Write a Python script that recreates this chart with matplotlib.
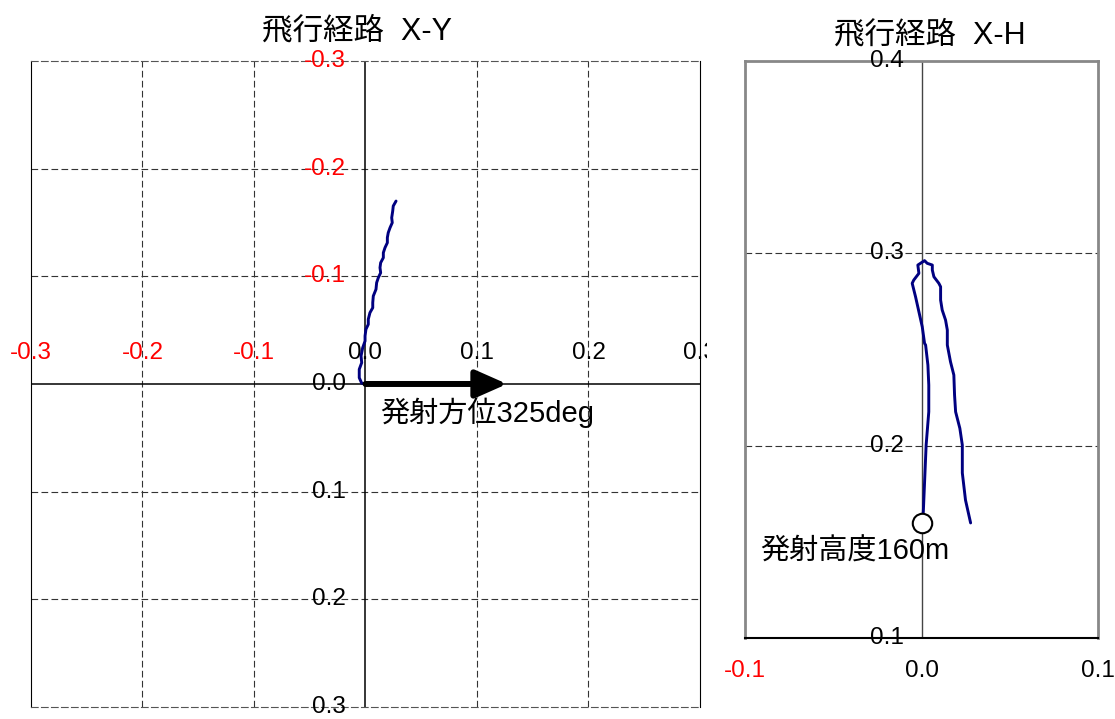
import matplotlib.pyplot as plt
from matplotlib.patches import FancyArrowPatch
from matplotlib.transforms import Bbox, TransformedBbox

plt.rcParams['font.family'] = ['Liberation Sans', 'Noto Sans CJK JP']

# flight path, plan view (km); y grows downward
xy_x = [0.0, -0.0034, -0.0056, -0.0056, -0.0034, -0.0040, -0.0025, -0.0004, -0.0004,
        0.0004, 0.0025, 0.0025, 0.0040, 0.0065, 0.0065, 0.0070, 0.0094, 0.0100,
        0.0115, 0.0136, 0.0130, 0.0136, 0.0160, 0.0160, 0.0175, 0.0196, 0.0196,
        0.0204, 0.0220, 0.0240, 0.0235, 0.0244, 0.0249, 0.0274]
xy_y = [0.0, -0.0007, -0.0058, -0.0136, -0.0198, -0.0260, -0.0337, -0.0399, -0.0446,
        -0.0508, -0.0554, -0.0601, -0.0662, -0.0708, -0.0755, -0.0817, -0.0879, -0.0941,
        -0.0987, -0.1033, -0.1080, -0.1126, -0.1173, -0.1219, -0.1266, -0.1312, -0.1359,
        -0.1405, -0.1451, -0.1498, -0.1544, -0.1606, -0.1653, -0.1699]

# flight path, side view (km)
xh_x = [0.0, 0.0010, 0.0026, 0.0041, 0.0041, 0.0036, 0.0023, 0.0017, 0.0004,
        -0.0015, -0.0034, -0.0053, -0.0044, -0.0015, -0.0021, -0.0006, 0.0017,
        0.0032, 0.0061, 0.0061, 0.0070, 0.0098, 0.0108, 0.0108, 0.0117, 0.0136,
        0.0146, 0.0146, 0.0164, 0.0183, 0.0187, 0.0193, 0.0217, 0.0231, 0.0231,
        0.0249, 0.0278]
xh_h = [0.160, 0.1656, 0.2003, 0.2176, 0.2315, 0.2419, 0.2523, 0.2532, 0.2618,
        0.2696, 0.2774, 0.2844, 0.2861, 0.2896, 0.2939, 0.2948, 0.2962,
        0.2948, 0.2939, 0.2913, 0.2878, 0.2844, 0.2826, 0.2757, 0.2705, 0.2653,
        0.2601, 0.2523, 0.2436, 0.2367, 0.2263, 0.2176, 0.2090, 0.2003, 0.1858,
        0.1717, 0.1598]

xy_ticks = [-0.3, -0.2, -0.1, 0.0, 0.1, 0.2, 0.3]
xh_xticks = [-0.1, 0.0, 0.1]
xh_hticks = [0.1, 0.2, 0.3, 0.4]
launch_azimuth = 325
launch_height = 160

grid_kw = dict(color='#333333', lw=0.8, ls=(0, (6, 3)), zorder=1)
fs = 17.5
path_kw = dict(color='#000080', lw=2.1, zorder=4, solid_joinstyle='round',
               solid_capstyle='round')

fig = plt.figure(figsize=(11.15, 7.19), dpi=100)

# X-Y
ax1 = fig.add_axes([0.0278, 0.0167, 0.6, 0.8985])
ax1.set_xlim(-0.3, 0.3)
ax1.set_ylim(0.3, -0.3)
ax1.set_xticks([])
ax1.set_yticks([])
for v in xy_ticks[1:-1]:
    if v != 0:
        ax1.axvline(v, **grid_kw)
        ax1.axhline(v, **grid_kw)
for s in ['top', 'bottom']:
    ax1.spines[s].set_linestyle((0, (6, 3)))
    ax1.spines[s].set_color('#555555')
    ax1.spines[s].set_linewidth(0.8)
for s in ['left', 'right']:
    ax1.spines[s].set_linewidth(0.8)
ax1.axhline(0, color='black', lw=1.1, zorder=2)
ax1.axvline(0, color='black', lw=1.1, zorder=2)

clip = TransformedBbox(Bbox([[-0.05, -0.05], [1.0105, 1.05]]), ax1.transAxes)
for v in xy_ticks:
    c = 'red' if v < 0 else 'black'
    t = ax1.annotate(f'{v:.1f}', (v, 0), xytext=(0, 22), textcoords='offset points',
                     ha='center', va='center', color=c, fontsize=fs, zorder=3)
    t.set_clip_box(clip)
    t.set_clip_on(True)
    ax1.annotate(f'{v:.1f}', (0, v), xytext=(-14, 0), textcoords='offset points',
                 ha='right', va='center', color=c, fontsize=fs, zorder=3,
                 annotation_clip=False)

ax1.plot(xy_x, xy_y, **path_kw)
arrow = FancyArrowPatch((0, 0), (0.127, 0),
                        arrowstyle='-|>,head_length=0.95,head_width=0.42',
                        mutation_scale=20, lw=4.3, color='black',
                        shrinkA=0, shrinkB=0, zorder=5)
ax1.add_patch(arrow)
ax1.text(0.013, 0.027, f'発射方位{launch_azimuth}deg', ha='left', va='center',
         fontsize=21, zorder=6)

# X-H
ax2 = fig.add_axes([0.6682, 0.1127, 0.3166, 0.8025])
ax2.set_xlim(-0.1, 0.1)
ax2.set_ylim(0.1, 0.4)
ax2.set_xticks([])
ax2.set_yticks([])
for h in xh_hticks[1:-1]:
    ax2.axhline(h, **grid_kw)
for s in ['left', 'top', 'right']:
    ax2.spines[s].set_color('#888888')
    ax2.spines[s].set_linewidth(2)
ax2.spines['bottom'].set_linewidth(1.5)
ax2.axvline(0, color='#444444', lw=1, zorder=2)

for h in xh_hticks:
    ax2.annotate(f'{h:.1f}', (0, h), xytext=(-13, 0), textcoords='offset points',
                 ha='right', va='center', fontsize=fs, zorder=3, annotation_clip=False)
for v in xh_xticks:
    ax2.annotate(f'{v:.1f}', (v, 0.1), xytext=(0, -24), textcoords='offset points',
                 ha='center', va='center', color='red' if v < 0 else 'black',
                 fontsize=fs, annotation_clip=False)

ax2.plot(xh_x, xh_h, **path_kw)
ax2.plot(0, launch_height / 1000, 'o', ms=14, mfc='white', mec='black', mew=1.5, zorder=5)
ax2.text(-0.0912, 0.1447, f'発射高度{launch_height}m', ha='left', va='center',
         fontsize=21, zorder=6)

fig.text(357 / 1115, 1 - 31 / 719, '飛行経路  X-Y', ha='center', va='center', fontsize=22)
fig.text(930 / 1115, 1 - 35 / 719, '飛行経路  X-H', ha='center', va='center', fontsize=22)

fig.savefig('out.png', dpi=100)
